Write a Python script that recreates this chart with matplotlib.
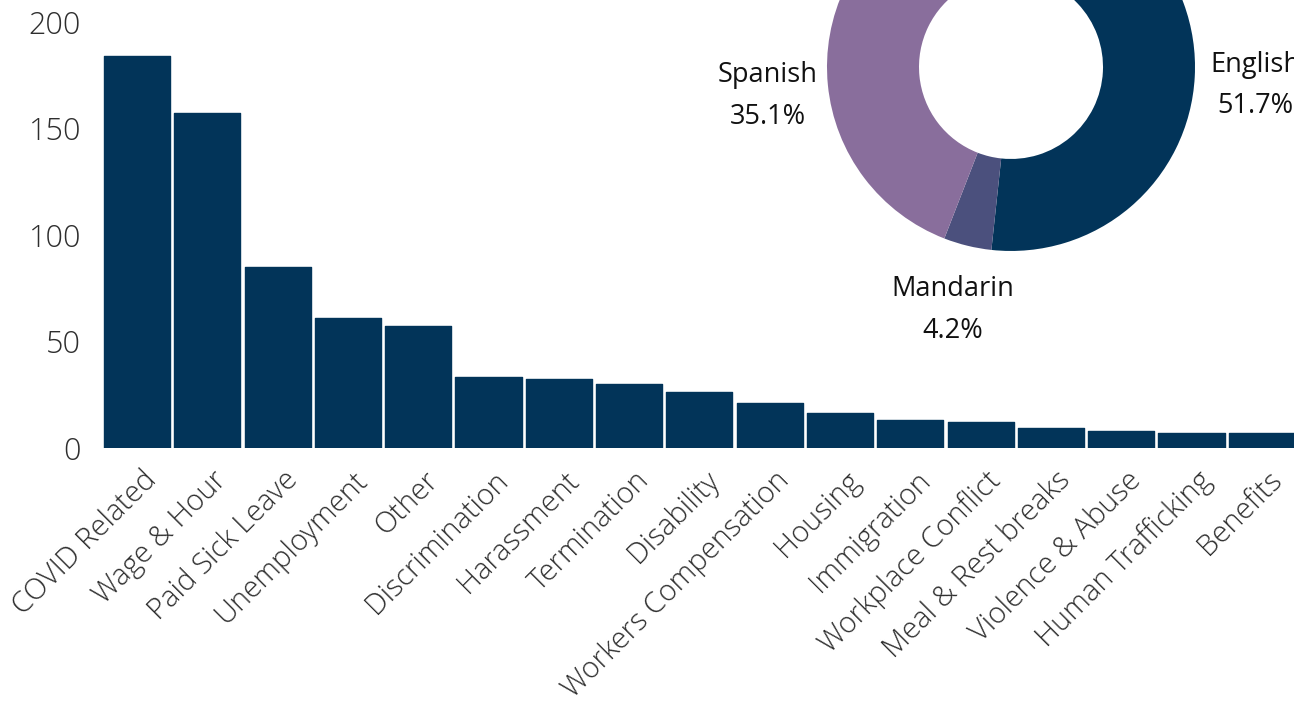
import numpy as np
import matplotlib
matplotlib.use("Agg")
import matplotlib.pyplot as plt
from matplotlib.transforms import ScaledTranslation

plt.rcParams["font.family"] = ["Open Sans", "DejaVu Sans"]

# case issues
issues = ["COVID Related", "Wage & Hour", "Paid Sick Leave", "Unemployment",
          "Other", "Discrimination", "Harassment", "Termination", "Disability",
          "Workers Compensation", "Housing", "Immigration", "Workplace Conflict",
          "Meal & Rest breaks", "Violence & Abuse", "Human Trafficking", "Benefits"]
issue_counts = [184, 157, 85, 61, 57, 33, 32, 30, 26, 21, 16, 13, 12, 9, 8, 7, 7]

# languages (share of calls, %)
languages = ["English", "Mandarin", "Spanish", "Other"]
language_share = [51.7, 4.2, 35.1, 9.0]

navy = "#023459"
lang_colors = [navy, "#4b507d", "#896e9c", "#b9a8c9"]
tick_color = "#2e2e2e"

fig = plt.figure(figsize=(12.94, 7.03), dpi=100)

# bar chart
ax = fig.add_axes([0.0734, 0.3634, 0.9266, 0.6053])
x = np.arange(len(issues))
ax.bar(x, issue_counts, width=0.94, color=navy, edgecolor=navy,
       linewidth=1.0, joinstyle="round")
ax.set_xlim(-0.597, 16.458)
ax.set_ylim(0, 200)
ax.set_yticks([0, 50, 100, 150, 200])
ax.tick_params(axis="y", length=0, pad=10, labelsize=22, labelcolor=tick_color)
ax.tick_params(axis="x", length=0, pad=0)
for s in ax.spines.values():
    s.set_visible(False)
for lbl in ax.get_yticklabels():
    lbl.set_fontweight("light")

ax.set_xticks(x)
ax.set_xticklabels(issues, rotation=45, ha="right", va="top",
                   rotation_mode="anchor", fontsize=21, color=tick_color,
                   fontweight="light")
shift = ScaledTranslation(0.05, -0.18, fig.dpi_scale_trans)
for lbl in ax.get_xticklabels():
    lbl.set_transform(lbl.get_transform() + shift)

# donut chart of call languages
pax = fig.add_axes([0.6391, 0.643, 0.2844, 0.5235])
wedges, _ = pax.pie(language_share, colors=lang_colors, startangle=90,
                    counterclock=False, radius=1.0,
                    wedgeprops=dict(width=0.5, linewidth=0))
pax.set_xlim(-1, 1)
pax.set_ylim(-1, 1)
pax.set_aspect("auto")
pax.axis("off")

for w, name, share in zip(wedges, languages, language_share):
    mid = np.deg2rad((w.theta1 + w.theta2) / 2)
    r = 1.33
    pax.text(r * np.cos(mid), r * np.sin(mid) - 0.03, f"{name}\n{share:.1f}%",
             ha="center", va="center", fontsize=19.5, color="#111111",
             linespacing=1.65, clip_on=False)

fig.savefig("out.png", dpi=100)
